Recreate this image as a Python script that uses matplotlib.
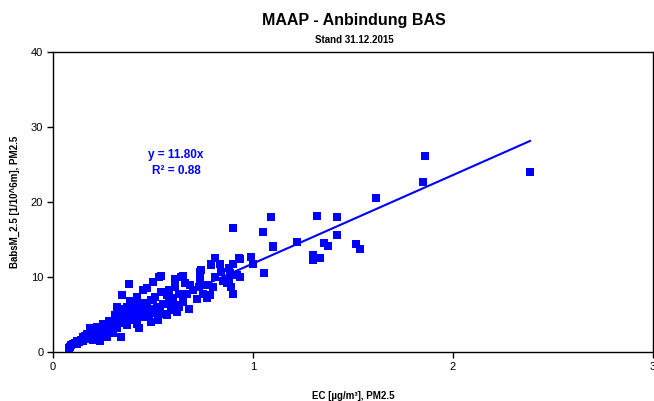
import matplotlib
matplotlib.use("Agg")
import matplotlib.pyplot as plt
import numpy as np

plt.rcParams['font.family'] = ['Liberation Sans', 'DejaVu Sans']

title = "MAAP - Anbindung BAS"
subtitle = "Stand 31.12.2015"
xlabel = "EC [µg/m³], PM2.5"
ylabel = "BabsM_2.5 [1/10^6m], PM2.5"
slope = 11.80
r2 = 0.88
x_ticks = [0, 1, 2, 3]
y_ticks = [0, 10, 20, 30, 40]

ec = [0.08, 0.085, 0.09, 0.10, 0.11, 0.12, 0.12, 0.13, 0.14, 0.15, 0.15, 0.16, 0.16, 0.17, 0.18, 0.18,
      0.185, 0.19, 0.20, 0.20, 0.21, 0.22, 0.22, 0.23, 0.235, 0.24, 0.245, 0.25, 0.25, 0.26, 0.27, 0.27,
      0.28, 0.29, 0.29, 0.30, 0.30,
      0.31, 0.31, 0.32, 0.32, 0.33, 0.34, 0.34, 0.345, 0.35, 0.35, 0.36, 0.37, 0.37, 0.38, 0.38, 0.385,
      0.39, 0.40, 0.40, 0.41, 0.42, 0.42, 0.43, 0.43, 0.43, 0.44, 0.45, 0.45, 0.46, 0.47, 0.47, 0.48,
      0.48, 0.49, 0.49, 0.50, 0.50, 0.50,
      0.51, 0.52, 0.525, 0.53, 0.535, 0.54, 0.54, 0.55, 0.56, 0.57, 0.57, 0.58, 0.58, 0.59, 0.60, 0.61,
      0.61, 0.61, 0.62, 0.63, 0.63, 0.64, 0.65, 0.65, 0.65, 0.66, 0.67, 0.68, 0.685, 0.70,
      0.72, 0.73, 0.735, 0.735, 0.74, 0.75, 0.77, 0.77, 0.785, 0.79, 0.79, 0.80, 0.81, 0.81, 0.835, 0.84,
      0.85, 0.87, 0.88, 0.88, 0.885, 0.89, 0.90, 0.90, 0.92, 0.93, 0.935, 0.935, 0.90,
      0.99, 1.00, 1.057, 1.05, 1.09, 1.10, 1.10, 1.22, 1.298, 1.30, 1.32, 1.337, 1.357, 1.373, 1.42, 1.42,
      1.515, 1.535, 1.615, 1.85, 1.86, 2.385]
babs = [0.5, 0.7, 0.9, 1.0, 1.2, 1.1, 1.4, 1.3, 1.6, 1.5, 2.0, 2.1, 1.7, 2.4, 2.3, 1.9,
        3.2, 2.8, 1.6, 2.5, 2.2, 2.9, 3.4, 2.1, 1.4, 3.0, 3.2, 2.6, 3.8, 3.3, 2.0, 3.6,
        4.2, 4.0, 3.0, 2.5, 3.5,
        4.9, 4.3, 3.2, 6.0, 5.3, 4.7, 2.0, 7.6, 5.7, 3.9, 4.4, 6.0, 3.6, 5.1, 9.1, 6.8,
        4.6, 6.5, 4.3, 5.6, 7.4, 3.8, 6.3, 5.4, 3.2, 4.8, 8.3, 4.7, 6.6, 8.6, 6.0, 4.9,
        5.7, 4.0, 6.9, 9.4, 7.0, 5.2,
        7.4, 6.0, 4.3, 10.0, 5.4, 8.0, 10.1, 6.4, 5.1, 7.6, 4.9, 6.7, 8.3, 5.6, 7.2, 6.3,
        8.7, 9.8, 5.3, 6.0, 7.7, 10.0, 6.7, 7.1, 10.1, 9.2, 7.8, 5.8, 8.9, 8.3,
        7.1, 8.7, 9.6, 10.7, 10.9, 7.8, 8.9, 7.2, 7.6, 11.6, 11.7, 8.7, 10.0, 12.5, 11.8, 10.7,
        9.5, 9.2, 11.2, 9.8, 10.5, 8.7, 7.8, 11.8, 10.3, 12.5, 12.4, 10.0, 16.5,
        12.7, 11.7, 10.5, 16.0, 18.0, 14.1, 14.0, 14.7, 13.0, 12.3, 18.1, 12.6, 14.5, 14.1, 18.0, 15.6,
        14.4, 13.7, 20.6, 22.7, 26.2, 24.0]

fig = plt.figure(figsize=(6.54, 4.01), dpi=100)
ax = fig.add_axes([0.081, 0.1222, 0.9175, 0.748])

ax.scatter(ec, babs, marker='s', s=28, color='#0000FF', linewidths=0, zorder=3)
xl = np.array([min(ec), max(ec)])
ax.plot(xl, slope * xl, color='#0000FF', lw=1.5, zorder=2)

ax.set_xlim(0, 3)
ax.set_ylim(0, 40)
ax.set_xticks(x_ticks)
ax.set_yticks(y_ticks)
ax.tick_params(direction='out', length=4, width=1, labelsize=8, colors='black', pad=3)
for s in ax.spines.values():
    s.set_linewidth(1.0)
    s.set_color('black')

ax.set_xlabel(xlabel, fontsize=7, fontweight='bold', labelpad=14)
ax.set_ylabel(ylabel, fontsize=7, fontweight='bold', labelpad=8)

ax.text(0.615, 26.3, f"y = {slope:.2f}x", color='#0000FF', fontsize=8.5, fontweight='bold',
        ha='center', va='center')
ax.text(0.615, 24.1, f"R² = {r2:.2f}", color='#0000FF', fontsize=8.5, fontweight='bold',
        ha='center', va='center')

fig.text(0.541, 0.948, title, fontsize=11.5, fontweight='bold', ha='center', va='center')
fig.text(0.541, 0.900, subtitle, fontsize=7, fontweight='bold', ha='center', va='center')

fig.savefig("out.png", dpi=100)
